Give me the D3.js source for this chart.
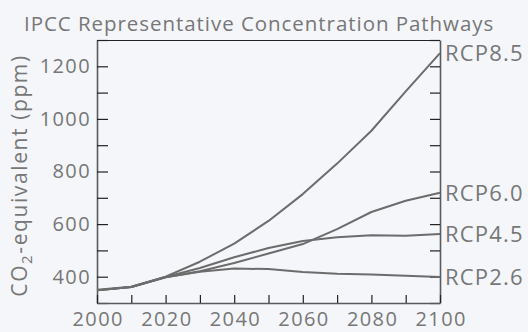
<!DOCTYPE html>
<html><head><meta charset="utf-8">
<script src="https://cdn.jsdelivr.net/npm/d3@7"></script>
<style>
html,body{margin:0;padding:0;background:#f4f6fa;}
svg{display:block;font-family:"Open Sans",sans-serif;}
</style></head>
<body>
<svg id="chart" width="528" height="332"></svg>
<script>
const years = [2000,2010,2020,2030,2040,2050,2060,2070,2080,2090,2100];
const rcp85 = [350,362,400,457,526,612,714,830,955,1105,1250];
const rcp60 = [348,361,398,421,452,488,524,581,646,689,719];
const rcp45 = [348,361,399,433,474,509,536,550,558,556,562];
const rcp26 = [348,361,398,419,431,429,418,411,408,404,399];
const seriesNames = ["RCP8.5","RCP6.0","RCP4.5","RCP2.6"];
const seriesValues = [rcp85, rcp60, rcp45, rcp26];
const yTicks = [300,400,500,600,700,800,900,1000,1100,1200,1300];
const yLabels = [400,600,800,1000,1200];
const xTicks = [2000,2010,2020,2030,2040,2050,2060,2070,2080,2090,2100];
const xLabels = [2000,2020,2040,2060,2080,2100];
const title = "IPCC Representative Concentration Pathways";

const svg = d3.select("#chart");
const L = 97, R = 440, T = 40, B = 303;
const x = d3.scaleLinear().domain([2000,2100]).range([L,R]);
const y = d3.scaleLinear().domain([300,1300]).range([B,T]);
const txt = "#777";

svg.append("text").attr("x",24).attr("y",31).attr("fill",txt)
  .attr("font-size",20.5).attr("letter-spacing",0.95).text(title);

// top border
svg.append("line").attr("x1",L).attr("x2",R).attr("y1",T+0.5).attr("y2",T+0.5)
  .attr("stroke","#222").attr("stroke-width",1);

function styleAxis(g){
  g.select(".domain").attr("stroke","#5a5a5a").attr("stroke-width",1.6);
  g.selectAll(".tick line").attr("stroke","#222").attr("stroke-width",1.2);
  g.selectAll(".tick text").attr("fill",txt).attr("font-size",20)
   .attr("letter-spacing",1.4)
   .attr("font-family","'Open Sans',sans-serif");
}

const yl = svg.append("g").attr("transform",`translate(${L},0)`)
  .call(d3.axisLeft(y).tickValues(yTicks).tickSizeInner(-11).tickSizeOuter(0).tickPadding(6)
    .tickFormat(d => yLabels.includes(d) ? d : ""));
styleAxis(yl);
const yr = svg.append("g").attr("transform",`translate(${R},0)`)
  .call(d3.axisRight(y).tickValues(yTicks).tickSizeInner(-10).tickSizeOuter(0).tickFormat(""));
styleAxis(yr);
const xb = svg.append("g").attr("transform",`translate(0,${B})`)
  .call(d3.axisBottom(x).tickValues(xTicks).tickSizeInner(-8).tickSizeOuter(0).tickPadding(9)
    .tickFormat(d => xLabels.includes(d) ? d : ""));
styleAxis(xb);
xb.selectAll(".tick text").attr("dx",0.7);

const line = d3.line().x((d,i)=>x(years[i])).y(d=>y(d));
seriesValues.forEach((vals,k)=>{
  svg.append("path").datum(vals).attr("d",line).attr("fill","none")
    .attr("stroke","#6c6c6c").attr("stroke-width",2).attr("stroke-linejoin","round");
  svg.append("text").attr("x",R+5).attr("y",y(vals[vals.length-1])).attr("dy","0.36em")
    .attr("fill",txt).attr("font-size",22).attr("letter-spacing",1.2).text(seriesNames[k]);
});

// y axis title
const yt = svg.append("text").attr("transform",`translate(27,${(T+B)/2 + 4}) rotate(-90)`)
  .attr("text-anchor","middle").attr("fill",txt).attr("font-size",21).attr("letter-spacing",1.6);
yt.append("tspan").text("CO");
yt.append("tspan").attr("font-size",15).attr("dy",5).text("2");
yt.append("tspan").attr("dy",-5).text("-equivalent (ppm)");
</script>
</body></html>
